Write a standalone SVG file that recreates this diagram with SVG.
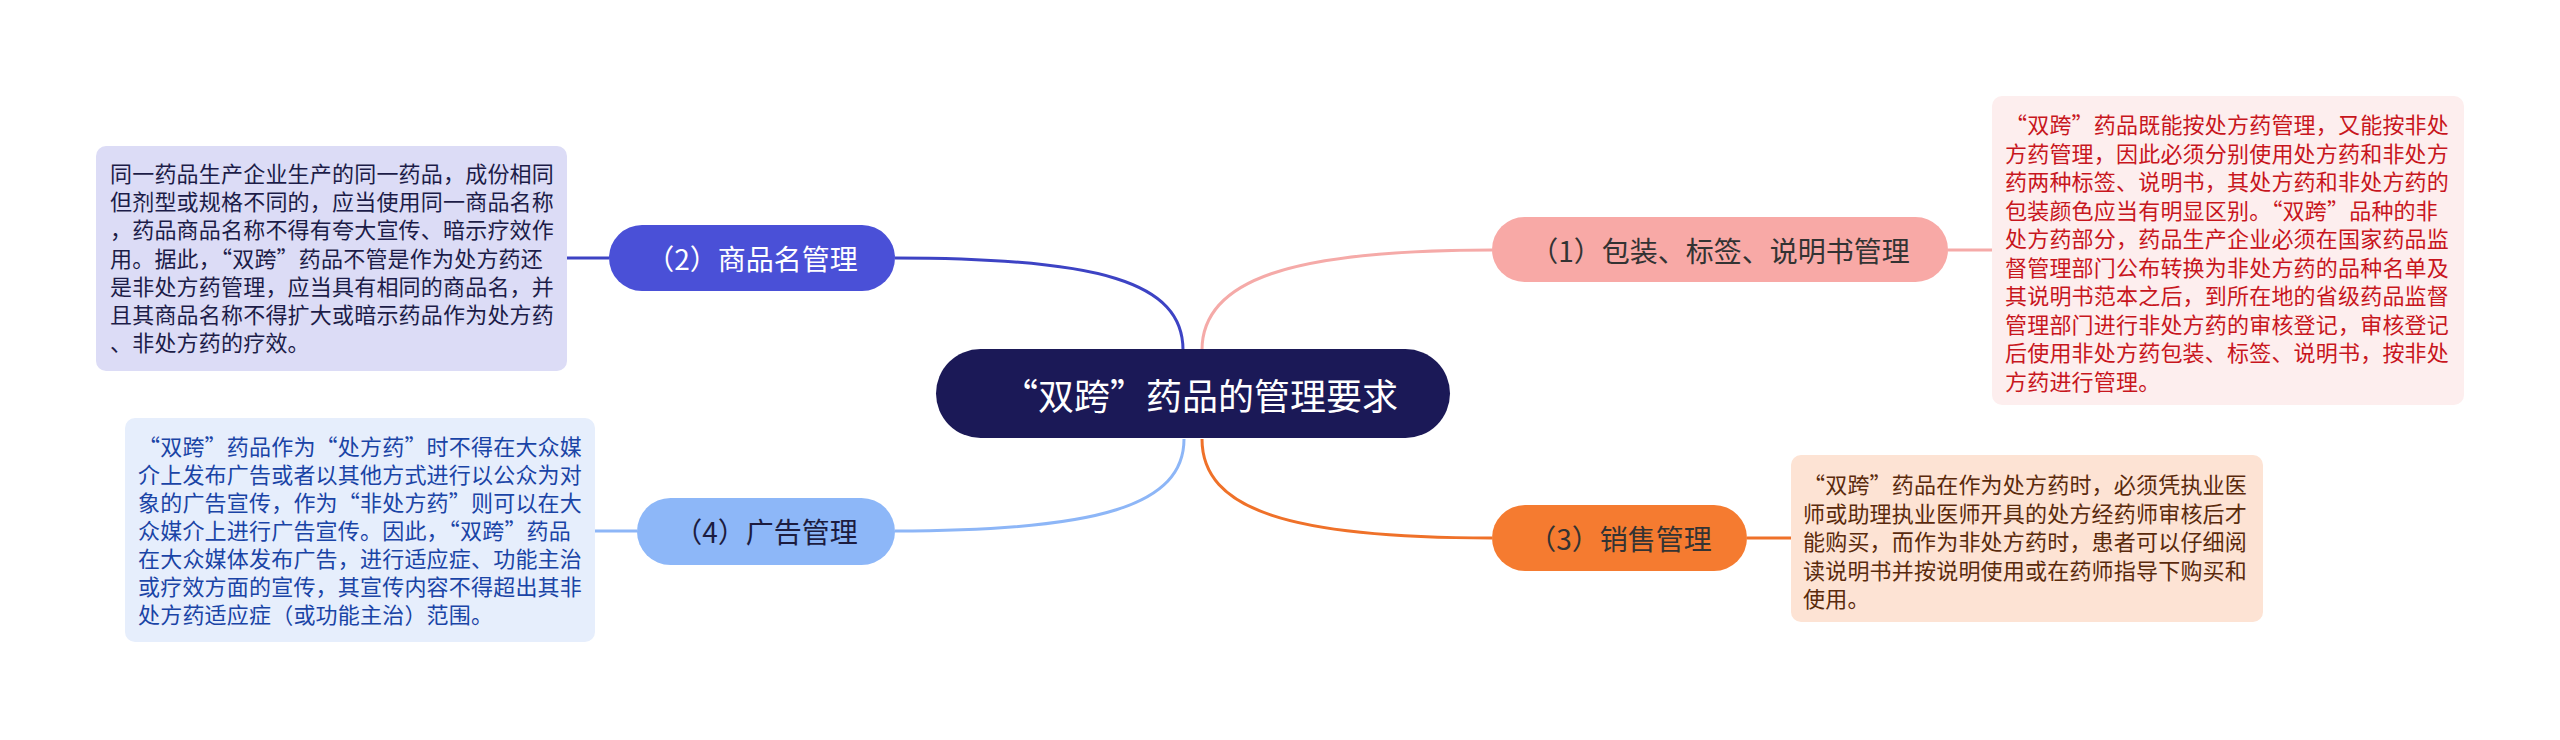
<svg xmlns="http://www.w3.org/2000/svg" width="2560" height="740" viewBox="0 0 2560 740" xml:lang="zh-CN" lang="zh-CN">
<style>
.t{font-family:"Noto Sans CJK SC","Noto Sans",sans-serif;}
.fw{font-feature-settings:"fwid" 1;}
.leaf{font-size:22px;letter-spacing:0.2px;dominant-baseline:central;}
.nd{font-size:28px;text-anchor:middle;dominant-baseline:central;}
.conn{fill:none;stroke-width:3;}
</style>
<rect width="2560" height="740" fill="#ffffff"/>
<g id="connectors">
<path class="conn" stroke="#3d43c4" d="M1183 350 C1183 282,1100 258,895 258"/>
<path class="conn" stroke="#8db6f7" d="M1184 439 C1184 505,1100 531,895 531"/>
<path class="conn" stroke="#f5aaa8" d="M1202 350 C1202 280,1290 250,1492 250"/>
<path class="conn" stroke="#ef7129" d="M1202 439 C1202 510,1290 538,1492 538"/>
<path class="conn" stroke="#3d43c4" d="M609 258 L567 258"/>
<path class="conn" stroke="#8db6f7" d="M637 531 L594 531"/>
<path class="conn" stroke="#f5aaa8" d="M1948 250 L1992 250"/>
<path class="conn" stroke="#ef7129" d="M1747 538 L1791 538"/>
</g>
<g id="center">
<rect x="936" y="349" width="514" height="89" rx="44.5" fill="#1b1957"/>
<text class="t fw" x="1200" y="394" font-size="36" text-anchor="middle" dominant-baseline="central" fill="#ffffff">“双跨”药品的管理要求</text>
</g>
<g id="n1">
<rect x="1492" y="217" width="456" height="65" rx="32.5" fill="#f8a9a6"/>
<text class="t nd" x="1720" y="250" fill="#333333">（1）包装、标签、说明书管理</text>
</g>
<g id="n2">
<rect x="609" y="225" width="286" height="66" rx="33" fill="#4a50d7"/>
<text class="t nd" x="752" y="258" fill="#ffffff">（2）商品名管理</text>
</g>
<g id="n3">
<rect x="1492" y="505" width="255" height="66" rx="33" fill="#f57b30"/>
<text class="t nd" x="1620" y="538" fill="#333333">（3）销售管理</text>
</g>
<g id="n4">
<rect x="637" y="498" width="258" height="67" rx="33.5" fill="#8db7f8"/>
<text class="t nd" x="766" y="531" fill="#1c1c40">（4）广告管理</text>
</g>
<g id="leaf1">
<rect x="1992" y="96" width="472" height="309" rx="10" fill="#fdeeee"/>
<text class="t fw leaf" fill="#c8161d">
<tspan x="2005" y="123">“双跨”药品既能按处方药管理，又能按非处</tspan>
<tspan x="2005" y="151.5">方药管理，因此必须分别使用处方药和非处方</tspan>
<tspan x="2005" y="180">药两种标签、说明书，其处方药和非处方药的</tspan>
<tspan x="2005" y="208.5">包装颜色应当有明显区别。“双跨”品种的非</tspan>
<tspan x="2005" y="237">处方药部分，药品生产企业必须在国家药品监</tspan>
<tspan x="2005" y="265.5">督管理部门公布转换为非处方药的品种名单及</tspan>
<tspan x="2005" y="294">其说明书范本之后，到所在地的省级药品监督</tspan>
<tspan x="2005" y="322.5">管理部门进行非处方药的审核登记，审核登记</tspan>
<tspan x="2005" y="351">后使用非处方药包装、标签、说明书，按非处</tspan>
<tspan x="2005" y="379.5">方药进行管理。</tspan>
</text>
</g>
<g id="leaf2">
<rect x="96" y="146" width="471" height="225" rx="10" fill="#dcdcf6"/>
<text class="t fw leaf" fill="#1c1c48">
<tspan x="110" y="171.7">同一药品生产企业生产的同一药品，成份相同</tspan>
<tspan x="110" y="200">但剂型或规格不同的，应当使用同一商品名称</tspan>
<tspan x="110" y="228.3">，药品商品名称不得有夸大宣传、暗示疗效作</tspan>
<tspan x="110" y="256.7">用。据此，“双跨”药品不管是作为处方药还</tspan>
<tspan x="110" y="285">是非处方药管理，应当具有相同的商品名，并</tspan>
<tspan x="110" y="313.3">且其商品名称不得扩大或暗示药品作为处方药</tspan>
<tspan x="110" y="341">、非处方药的疗效。</tspan>
</text>
</g>
<g id="leaf3">
<rect x="1791" y="455" width="472" height="167" rx="10" fill="#fde3d4"/>
<text class="t fw leaf" fill="#5a2a0c">
<tspan x="1803" y="483">“双跨”药品在作为处方药时，必须凭执业医</tspan>
<tspan x="1803" y="511.5">师或助理执业医师开具的处方经药师审核后才</tspan>
<tspan x="1803" y="540">能购买，而作为非处方药时，患者可以仔细阅</tspan>
<tspan x="1803" y="568.5">读说明书并按说明使用或在药师指导下购买和</tspan>
<tspan x="1803" y="597">使用。</tspan>
</text>
</g>
<g id="leaf4">
<rect x="125" y="418" width="470" height="224" rx="10" fill="#e6eefc"/>
<text class="t fw leaf" fill="#1a44a6">
<tspan x="138" y="445">“双跨”药品作为“处方药”时不得在大众媒</tspan>
<tspan x="138" y="473">介上发布广告或者以其他方式进行以公众为对</tspan>
<tspan x="138" y="501">象的广告宣传，作为“非处方药”则可以在大</tspan>
<tspan x="138" y="529">众媒介上进行广告宣传。因此，“双跨”药品</tspan>
<tspan x="138" y="557">在大众媒体发布广告，进行适应症、功能主治</tspan>
<tspan x="138" y="585">或疗效方面的宣传，其宣传内容不得超出其非</tspan>
<tspan x="138" y="613">处方药适应症（或功能主治）范围。</tspan>
</text>
</g>
</svg>
